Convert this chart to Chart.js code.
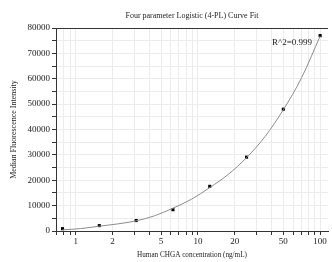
<!DOCTYPE html>
<html>
<head>
<meta charset="utf-8">
<script src="https://cdn.jsdelivr.net/npm/chart.js@4"></script>
<style>
    html, body { margin: 0; padding: 0; background: #fff; }
    #fitChart { display: block; }
</style>
</head>
<body>
<canvas id="fitChart" width="332" height="262"></canvas>
<script>
// standard points
var concentrations = [0.78, 1.56, 3.125, 6.25, 12.5, 25, 50, 100];
var intensities = [920, 2120, 4120, 8400, 17600, 29100, 48000, 77000];

// fitted curve
var curveX = [0.78, 1.1, 1.56, 2.21, 3.125, 4.42, 6.25, 8.84, 12.5, 17.7, 25, 35.4, 50, 70.7, 100];
var curveY = [450, 950, 1900, 2800, 4000, 6000, 9000, 12500, 17100, 22300, 28900, 37200, 47800, 60500, 76800];

var xGridValues = [0.7, 0.8, 0.9, 1, 2, 3, 4, 5, 6, 7, 8, 9, 10, 20, 30, 40, 50, 60, 70, 80, 90, 100];
var xLabelValues = [1, 2, 5, 10, 20, 50, 100];

var chartTitle = 'Four parameter Logistic (4-PL) Curve Fit';
var rSquared = 'R^2=0.999';

var serif = '"Liberation Serif", "DejaVu Serif", serif';

var toXY = function (xs, ys) {
    var out = [];
    for (var i = 0; i < xs.length; i++) {
        out.push({ x: xs[i], y: ys[i] });
    }
    return out;
};

var textPlugin = {
    id: 'textPlugin',
    afterDraw: function (chart) {
        var ctx = chart.ctx;
        var area = chart.chartArea;
        ctx.save();
        // top frame line
        ctx.strokeStyle = '#333';
        ctx.lineWidth = 1;
        ctx.beginPath();
        ctx.moveTo(area.left, area.top + 0.5);
        ctx.lineTo(area.right, area.top + 0.5);
        ctx.stroke();
        ctx.fillStyle = '#222';
        ctx.font = '8px ' + serif;
        ctx.textAlign = 'center';
        ctx.textBaseline = 'middle';
        ctx.fillText(chartTitle, (area.left + area.right) / 2, 16);
        ctx.font = '9px ' + serif;
        ctx.fillText(rSquared, 292, 43);
        ctx.restore();
    }
};

var ctx = document.getElementById('fitChart').getContext('2d');
new Chart(ctx, {
    type: 'scatter',
    data: {
        datasets: [
            {
                label: 'fit',
                data: toXY(curveX, curveY),
                showLine: true,
                borderColor: '#8c8c8c',
                borderWidth: 1,
                pointRadius: 0,
                cubicInterpolationMode: 'monotone'
            },
            {
                label: 'standards',
                data: toXY(concentrations, intensities),
                pointStyle: 'rect',
                pointRadius: 2.2,
                backgroundColor: '#000',
                borderColor: '#000',
                borderWidth: 0
            }
        ]
    },
    options: {
        responsive: false,
        animation: false,
        devicePixelRatio: 1,
        layout: { padding: { top: 28, right: 1, left: 0, bottom: 0 } },
        plugins: {
            legend: { display: false },
            tooltip: { enabled: false },
            title: { display: false }
        },
        scales: {
            x: {
                type: 'logarithmic',
                min: 0.69,
                max: 116,
                afterBuildTicks: function (axis) {
                    axis.ticks = xGridValues.map(function (v) { return { value: v }; });
                },
                afterFit: function (axis) { axis.height = 31; },
                border: { color: '#333', width: 1 },
                grid: { color: '#ececec', tickColor: '#333', tickLength: 4, lineWidth: 1 },
                ticks: {
                    autoSkip: false,
                    maxRotation: 0,
                    padding: 1,
                    color: '#222',
                    font: { family: serif, size: 9 },
                    callback: function (value) {
                        return xLabelValues.indexOf(value) >= 0 ? String(value) : '';
                    }
                },
                title: {
                    display: true,
                    text: 'Human CHGA concentration (ng/mL)',
                    color: '#222',
                    font: { family: serif, size: 7.2 },
                    padding: { top: 0, bottom: 3 }
                }
            },
            y: {
                min: 0,
                max: 80000,
                afterFit: function (axis) { axis.width = 56; },
                border: { color: '#333', width: 1 },
                grid: { color: '#ececec', tickColor: '#333', tickLength: 4, lineWidth: 1 },
                ticks: {
                    stepSize: 5000,
                    autoSkip: false,
                    padding: 2,
                    color: '#222',
                    font: { family: serif, size: 9 },
                    callback: function (value) {
                        return value % 10000 === 0 ? String(value) : '';
                    }
                },
                title: {
                    display: true,
                    text: 'Median Fluorescence Intensity',
                    color: '#222',
                    font: { family: serif, size: 8 },
                    padding: { top: 9, bottom: 0 }
                }
            }
        }
    },
    plugins: [textPlugin]
});
</script>
</body>
</html>
